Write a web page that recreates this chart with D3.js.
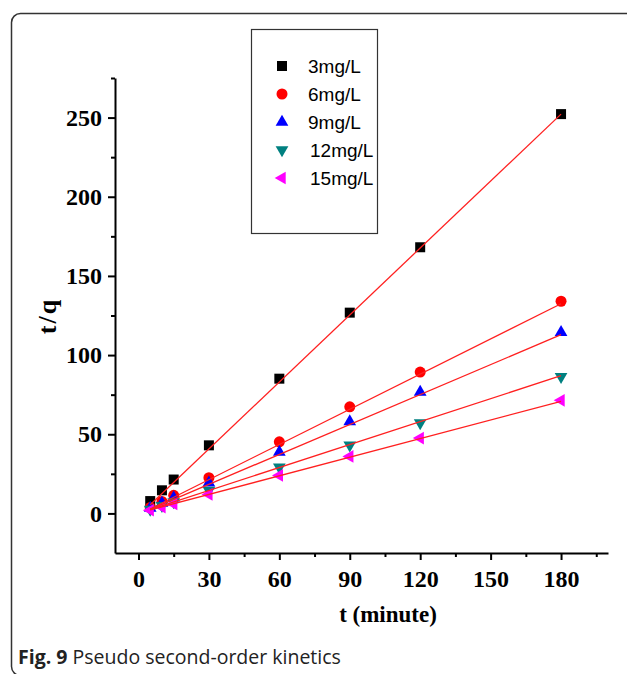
<!DOCTYPE html>
<html>
<head>
<meta charset="utf-8">
<script src="https://cdn.jsdelivr.net/npm/d3@7"></script>
<style>
  html, body { margin: 0; padding: 0; background: #fff; }
  svg { display: block; }
</style>
</head>
<body>
<svg id="chart" width="627" height="674"></svg>
<script>
// ---- data ----
const times = [5, 10, 15, 30, 60, 90, 120, 180];
const seriesNames = ["3mg/L", "6mg/L", "9mg/L", "12mg/L", "15mg/L"];
const s3  = [7.8, 14.6, 21.4, 43.0, 85.1, 126.8, 168.1, 252.2];
const s6  = [3.8, 7.6, 11.4, 22.6, 45.2, 67.3, 89.3, 134.0];
const s9  = [3.3, 6.5, 9.8, 19.3, 38.8, 58.0, 76.7, 114.3];
const s12 = [2.5, 4.9, 7.3, 14.5, 29.2, 43.1, 57.2, 86.3];
const s15 = [2.0, 4.0, 6.0, 12.0, 24.0, 36.0, 47.6, 71.4];
// fitted line endpoints [t, t/q]
const fit3  = [[5, 5.5], [180, 252.2]];
const fit6  = [[5, 2.8], [180, 132.4]];
const fit9  = [[5, 2.6], [180, 112.9]];
const fit12 = [[5, 2.4], [180, 87.0]];
const fit15 = [[5, 2.2], [180, 70.8]];
const xTicks = [0, 30, 60, 90, 120, 150, 180];
const xMinor = [15, 45, 75, 105, 135, 165, 195];
const yTicks = [0, 50, 100, 150, 200, 250];
const yMinor = [25, 75, 125, 175, 225, 275];
const xTitle = "t (minute)";
const yTitle = "t/q";
const captionBold = "Fig. 9";
const captionText = " Pseudo second-order kinetics";

const seriesValues = [s3, s6, s9, s12, s15];
const fits = [fit3, fit6, fit9, fit12, fit15];
const colors = ["#000000", "#ff0000", "#0000ff", "#008080", "#ff00ff"];
const shapes = [
  {type: d3.symbolSquare, size: 100, rot: 0},
  {type: d3.symbolCircle, size: 95, rot: 0},
  {type: d3.symbolTriangle, size: 70, rot: 0},
  {type: d3.symbolTriangle, size: 70, rot: 180},
  {type: d3.symbolTriangle, size: 70, rot: -90}
];

const svg = d3.select("#chart");

// frame
svg.append("rect")
  .attr("x", 11.5).attr("y", 13.5)
  .attr("width", 640).attr("height", 662)
  .attr("rx", 9).attr("ry", 9)
  .attr("fill", "none").attr("stroke", "#333").attr("stroke-width", 1.5);

const x = d3.scaleLinear().domain([-10, 200]).range([115, 608]);
const y = d3.scaleLinear().domain([-25, 275]).range([553, 78]);

const tickFont = "'Liberation Serif', 'Times New Roman', serif";

// axes
const xAxis = d3.axisBottom(x).tickValues(xTicks).tickSize(7).tickSizeOuter(0).tickPadding(10);
svg.append("g").attr("transform", `translate(0,${y(-25)})`).call(xAxis);
const xMinorAxis = d3.axisBottom(x).tickValues(xMinor).tickSize(4).tickSizeOuter(0).tickFormat("");
svg.append("g").attr("transform", `translate(0,${y(-25)})`).call(xMinorAxis).select(".domain").remove();

const yAxis = d3.axisLeft(y).tickValues(yTicks).tickSize(7).tickSizeOuter(0).tickPadding(6);
svg.append("g").attr("transform", `translate(${x(-10)},0)`).call(yAxis);
const yMinorAxis = d3.axisLeft(y).tickValues(yMinor).tickSize(4).tickSizeOuter(0).tickFormat("");
svg.append("g").attr("transform", `translate(${x(-10)},0)`).call(yMinorAxis).select(".domain").remove();

svg.selectAll(".domain").attr("stroke", "#000").attr("stroke-width", 2);
svg.selectAll(".tick line").attr("stroke", "#000").attr("stroke-width", 2);
svg.selectAll(".tick text")
  .attr("font-family", tickFont).attr("font-weight", "bold")
  .attr("font-size", 24).attr("fill", "#000");

// axis titles
svg.append("text")
  .attr("x", 388).attr("y", 622)
  .attr("text-anchor", "middle")
  .attr("font-family", tickFont).attr("font-weight", "bold").attr("font-size", 23)
  .text(xTitle);
svg.append("text")
  .attr("transform", "translate(56,316) rotate(-90)")
  .attr("text-anchor", "middle")
  .attr("font-family", tickFont).attr("font-weight", "bold").attr("font-size", 26)
  .attr("letter-spacing", 2)
  .text(yTitle);

// markers
seriesValues.forEach((vals, i) => {
  const sh = shapes[i];
  const sym = d3.symbol().type(sh.type).size(sh.size);
  svg.append("g").selectAll("path")
    .data(times.map((t, j) => [t, vals[j]]))
    .join("path")
    .attr("d", sym)
    .attr("transform", d => `translate(${x(d[0])},${y(d[1])}) rotate(${sh.rot})`)
    .attr("fill", colors[i]);
});

// fitted lines
const line = d3.line().x(d => x(d[0])).y(d => y(d[1]));
fits.forEach(f => {
  svg.append("path").attr("d", line(f))
    .attr("fill", "none").attr("stroke", "#ff2020").attr("stroke-width", 1.3);
});

// legend
svg.append("rect")
  .attr("x", 251.5).attr("y", 29.5).attr("width", 126).attr("height", 204)
  .attr("fill", "#fff").attr("stroke", "#333").attr("stroke-width", 1.2);
seriesNames.forEach((name, i) => {
  const ly = 66 + i * 28;
  const sh = shapes[i];
  svg.append("path")
    .attr("d", d3.symbol().type(sh.type).size(sh.size)())
    .attr("transform", `translate(282,${ly}) rotate(${sh.rot})`)
    .attr("fill", colors[i]);
  svg.append("text")
    .attr("x", i >= 3 ? 310 : 308).attr("y", ly + 7)
    .attr("font-family", "'Liberation Sans', Arial, sans-serif")
    .attr("font-size", 19).attr("fill", "#000")
    .text(name);
});

// caption
const cap = svg.append("text")
  .attr("x", 18).attr("y", 664)
  .attr("font-family", "'Open Sans', sans-serif").attr("font-size", 19.5).attr("fill", "#222");
cap.append("tspan").attr("font-weight", "bold").text(captionBold);
cap.append("tspan").text(captionText);
</script>
</body>
</html>
